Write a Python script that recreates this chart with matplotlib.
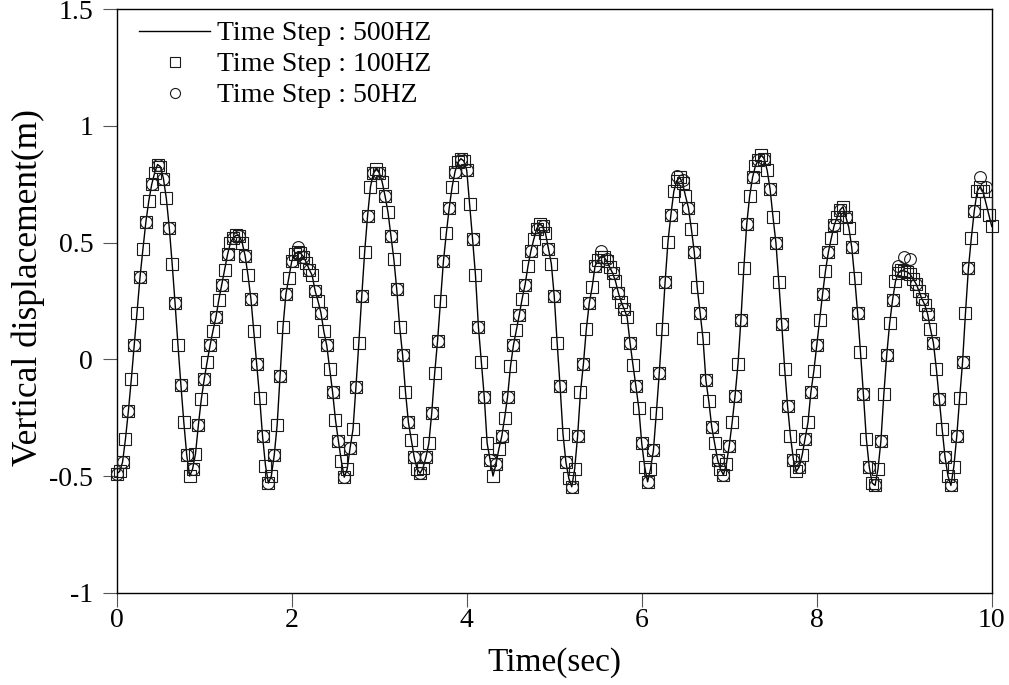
import numpy as np
import matplotlib
matplotlib.use("Agg")
import matplotlib.pyplot as plt

plt.rcParams['font.family'] = ['Liberation Serif', 'DejaVu Serif']
plt.rcParams['axes.unicode_minus'] = False

# ---- data -------------------------------------------------------------
# 500 Hz reference trace and 100 Hz run, both shown every 1/30 s
time_500 = np.linspace(0.0, 10.0, 301)
disp_500 = [
    -0.490, -0.480, -0.440, -0.340, -0.220, -0.085, 0.060, 0.200, 0.355, 0.475,
    0.590, 0.680, 0.750, 0.800, 0.835, 0.825, 0.775, 0.690, 0.565, 0.410,
    0.240, 0.060, -0.110, -0.270, -0.410, -0.500, -0.470, -0.405, -0.280, -0.170,
    -0.085, -0.010, 0.060, 0.123, 0.180, 0.255, 0.320, 0.385, 0.450, 0.500,
    0.522, 0.532, 0.530, 0.500, 0.445, 0.360, 0.260, 0.120, -0.020, -0.165,
    -0.330, -0.455, -0.530, -0.500, -0.410, -0.280, -0.070, 0.140, 0.280, 0.350,
    0.420, 0.450, 0.460, 0.455, 0.440, 0.415, 0.385, 0.360, 0.295, 0.250,
    0.200, 0.120, 0.060, -0.040, -0.140, -0.260, -0.350, -0.435, -0.505, -0.470,
    -0.380, -0.300, -0.120, 0.070, 0.270, 0.460, 0.615, 0.740, 0.797, 0.815,
    0.800, 0.760, 0.700, 0.630, 0.530, 0.430, 0.300, 0.140, 0.020, -0.140,
    -0.270, -0.345, -0.420, -0.470, -0.488, -0.465, -0.420, -0.360, -0.230, -0.060,
    0.080, 0.250, 0.420, 0.540, 0.650, 0.740, 0.805, 0.845, 0.860, 0.850,
    0.810, 0.665, 0.515, 0.360, 0.140, -0.010, -0.160, -0.360, -0.430, -0.500,
    -0.450, -0.385, -0.330, -0.250, -0.160, -0.030, 0.060, 0.125, 0.190, 0.260,
    0.320, 0.400, 0.465, 0.515, 0.560, 0.580, 0.570, 0.540, 0.475, 0.410,
    0.270, 0.070, -0.115, -0.320, -0.440, -0.510, -0.546, -0.470, -0.330, -0.140,
    -0.020, 0.130, 0.240, 0.310, 0.400, 0.425, 0.440, 0.440, 0.420, 0.395,
    0.370, 0.335, 0.285, 0.245, 0.215, 0.180, 0.070, -0.025, -0.115, -0.210,
    -0.360, -0.460, -0.525, -0.470, -0.390, -0.230, -0.060, 0.130, 0.330, 0.505,
    0.620, 0.720, 0.765, 0.780, 0.755, 0.700, 0.650, 0.560, 0.460, 0.310,
    0.200, 0.090, -0.090, -0.180, -0.290, -0.360, -0.430, -0.470, -0.495, -0.450,
    -0.370, -0.270, -0.155, -0.020, 0.170, 0.390, 0.580, 0.700, 0.780, 0.830,
    0.855, 0.874, 0.860, 0.810, 0.730, 0.610, 0.500, 0.330, 0.150, -0.040,
    -0.200, -0.330, -0.430, -0.480, -0.460, -0.410, -0.340, -0.270, -0.140, -0.050,
    0.060, 0.170, 0.280, 0.380, 0.460, 0.520, 0.575, 0.610, 0.640, 0.654,
    0.610, 0.565, 0.480, 0.350, 0.200, 0.030, -0.150, -0.340, -0.460, -0.530,
    -0.540, -0.470, -0.350, -0.150, 0.020, 0.155, 0.255, 0.335, 0.370, 0.382,
    0.378, 0.375, 0.365, 0.345, 0.325, 0.295, 0.260, 0.235, 0.195, 0.130,
    0.070, -0.040, -0.170, -0.300, -0.420, -0.500, -0.540, -0.460, -0.330, -0.165,
    -0.010, 0.200, 0.390, 0.520, 0.635, 0.720, 0.740, 0.720, 0.670, 0.620,
    0.570,
]

time_100 = np.linspace(0.0, 10.0, 301)
disp_100 = [
    -0.490, -0.480, -0.440, -0.340, -0.220, -0.085, 0.060, 0.200, 0.355, 0.475,
    0.590, 0.680, 0.750, 0.800, 0.835, 0.825, 0.775, 0.690, 0.565, 0.410,
    0.240, 0.060, -0.110, -0.270, -0.410, -0.500, -0.470, -0.405, -0.280, -0.170,
    -0.085, -0.010, 0.060, 0.123, 0.180, 0.255, 0.320, 0.385, 0.450, 0.500,
    0.522, 0.532, 0.530, 0.500, 0.445, 0.360, 0.260, 0.120, -0.020, -0.165,
    -0.330, -0.455, -0.530, -0.500, -0.410, -0.280, -0.070, 0.140, 0.280, 0.350,
    0.420, 0.450, 0.460, 0.455, 0.440, 0.415, 0.385, 0.360, 0.295, 0.250,
    0.200, 0.120, 0.060, -0.040, -0.140, -0.260, -0.350, -0.435, -0.505, -0.470,
    -0.380, -0.300, -0.120, 0.070, 0.270, 0.460, 0.615, 0.740, 0.797, 0.815,
    0.800, 0.760, 0.700, 0.630, 0.530, 0.430, 0.300, 0.140, 0.020, -0.140,
    -0.270, -0.345, -0.420, -0.470, -0.488, -0.465, -0.420, -0.360, -0.230, -0.060,
    0.080, 0.250, 0.420, 0.540, 0.650, 0.740, 0.805, 0.845, 0.860, 0.850,
    0.810, 0.665, 0.515, 0.360, 0.140, -0.010, -0.160, -0.360, -0.430, -0.500,
    -0.450, -0.385, -0.330, -0.250, -0.160, -0.030, 0.060, 0.125, 0.190, 0.260,
    0.320, 0.400, 0.465, 0.515, 0.560, 0.580, 0.570, 0.540, 0.475, 0.410,
    0.270, 0.070, -0.115, -0.320, -0.440, -0.510, -0.546, -0.470, -0.330, -0.140,
    -0.020, 0.130, 0.240, 0.310, 0.400, 0.425, 0.440, 0.440, 0.420, 0.395,
    0.370, 0.335, 0.285, 0.245, 0.215, 0.180, 0.070, -0.025, -0.115, -0.210,
    -0.360, -0.460, -0.525, -0.470, -0.390, -0.230, -0.060, 0.130, 0.330, 0.505,
    0.620, 0.720, 0.765, 0.780, 0.755, 0.700, 0.650, 0.560, 0.460, 0.310,
    0.200, 0.090, -0.090, -0.180, -0.290, -0.360, -0.430, -0.470, -0.495, -0.450,
    -0.370, -0.270, -0.155, -0.020, 0.170, 0.390, 0.580, 0.700, 0.780, 0.830,
    0.855, 0.874, 0.860, 0.810, 0.730, 0.610, 0.500, 0.330, 0.150, -0.040,
    -0.200, -0.330, -0.430, -0.480, -0.460, -0.410, -0.340, -0.270, -0.140, -0.050,
    0.060, 0.170, 0.280, 0.380, 0.460, 0.520, 0.575, 0.610, 0.640, 0.654,
    0.610, 0.565, 0.480, 0.350, 0.200, 0.030, -0.150, -0.340, -0.460, -0.530,
    -0.540, -0.470, -0.350, -0.150, 0.020, 0.155, 0.255, 0.335, 0.370, 0.382,
    0.378, 0.375, 0.365, 0.345, 0.325, 0.295, 0.260, 0.235, 0.195, 0.130,
    0.070, -0.040, -0.170, -0.300, -0.420, -0.500, -0.540, -0.460, -0.330, -0.165,
    -0.010, 0.200, 0.390, 0.520, 0.635, 0.720, 0.740, 0.720, 0.670, 0.620,
    0.570,
]

# 50 Hz run, shown every 1/15 s
time_50 = np.linspace(0.0, 10.0, 151)[:150]
disp_50 = [
    -0.490, -0.440, -0.220, 0.060, 0.355, 0.590, 0.750, 0.835, 0.775, 0.565,
    0.240, -0.110, -0.410, -0.470, -0.280, -0.085, 0.060, 0.180, 0.320, 0.450,
    0.522, 0.530, 0.445, 0.260, -0.020, -0.330, -0.530, -0.410, -0.070, 0.280,
    0.420, 0.480, 0.440, 0.385, 0.295, 0.200, 0.060, -0.140, -0.350, -0.505,
    -0.380, -0.120, 0.270, 0.615, 0.797, 0.800, 0.700, 0.530, 0.300, 0.020,
    -0.270, -0.420, -0.488, -0.420, -0.230, 0.080, 0.420, 0.650, 0.805, 0.860,
    0.810, 0.515, 0.140, -0.160, -0.430, -0.450, -0.330, -0.160, 0.060, 0.190,
    0.320, 0.465, 0.560, 0.570, 0.475, 0.270, -0.115, -0.440, -0.546, -0.330,
    -0.020, 0.240, 0.400, 0.465, 0.430, 0.370, 0.285, 0.215, 0.070, -0.115,
    -0.360, -0.525, -0.390, -0.060, 0.330, 0.620, 0.785, 0.770, 0.650, 0.460,
    0.200, -0.090, -0.290, -0.430, -0.495, -0.370, -0.155, 0.170, 0.580, 0.780,
    0.855, 0.860, 0.730, 0.500, 0.150, -0.200, -0.430, -0.460, -0.340, -0.140,
    0.060, 0.280, 0.460, 0.575, 0.640, 0.610, 0.480, 0.200, -0.150, -0.460,
    -0.540, -0.350, 0.020, 0.255, 0.400, 0.440, 0.430, 0.325, 0.260, 0.195,
    0.070, -0.170, -0.420, -0.540, -0.330, -0.010, 0.390, 0.635, 0.780, 0.740,
]

x_ticks = [0, 2, 4, 6, 8, 10]
y_ticks = [-1, -0.5, 0, 0.5, 1, 1.5]
y_tick_labels = ['-1', '-0.5', '0', '0.5', '1', '1.5']

# ---- figure -------------------------------------------------------------
fig = plt.figure(figsize=(10.09, 6.85), dpi=100)
ax = fig.add_axes([0.1157, 0.1347, 0.8672, 0.8517])

ax.plot(time_500, disp_500, color='black', lw=1.0, zorder=3,
        label='Time Step : 500HZ')
ax.plot(time_100, disp_100, ls='none', marker='s', ms=8.5, mfc='none',
        mec='#1a1a1a', mew=0.8, zorder=4, clip_on=False,
        label='Time Step : 100HZ')
ax.plot(time_50, disp_50, ls='none', marker='o', ms=8.5, mfc='none',
        mec='#1a1a1a', mew=0.8, zorder=5, clip_on=False,
        label='Time Step : 50HZ')

ax.set_xlim(0, 10)
ax.set_ylim(-1, 1.5)
ax.set_xticks(x_ticks)
ax.set_xticklabels([str(v) for v in x_ticks])
ax.set_yticks(y_ticks)
ax.set_yticklabels(y_tick_labels)

ax.tick_params(axis='both', direction='out', length=10, width=0.8,
               color='#555555', labelsize=20)
ax.tick_params(axis='y', pad=7)
ax.tick_params(axis='x', pad=1)
for side in ['left', 'bottom', 'top', 'right']:
    ax.spines[side].set_linewidth(1.0)
    ax.spines[side].set_color('black')

ax.set_xlabel('Time(sec)', fontsize=24)
ax.set_ylabel('Vertical displacement(m)', fontsize=25.5)
ax.xaxis.set_label_coords(0.5, -0.094)
ax.yaxis.set_label_coords(-0.0815, 0.523)

ax.legend(loc='upper left', bbox_to_anchor=(0.0257, 0.98), frameon=False,
          fontsize=20, numpoints=1, markerscale=0.85,
          handlelength=2.55, handletextpad=0.25, labelspacing=0.2,
          borderaxespad=0.0, borderpad=0.0)

fig.savefig('out.png', dpi=100)
